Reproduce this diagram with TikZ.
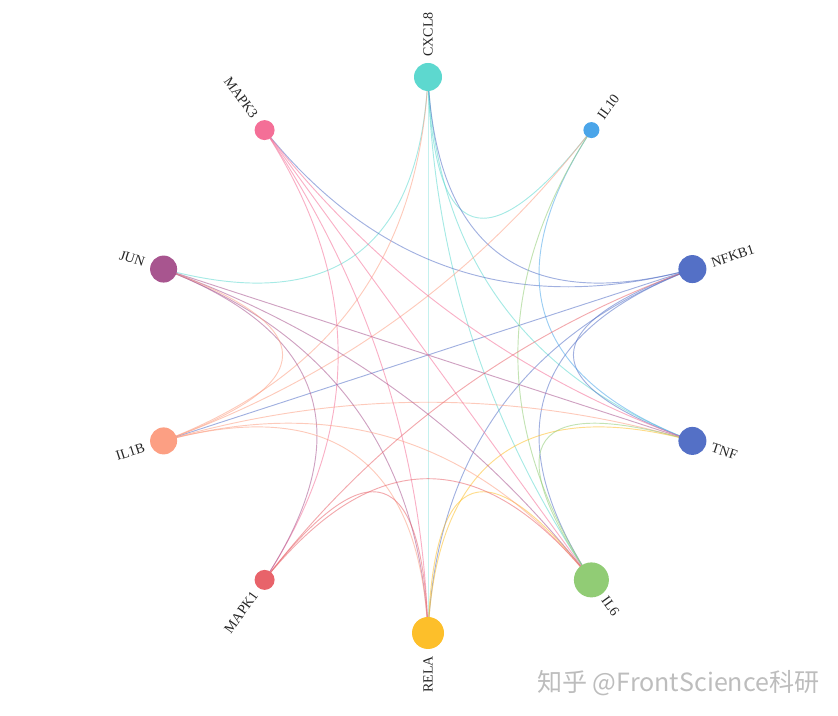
\documentclass[tikz,border=0pt]{standalone}
\usepackage{fontspec}
\setmainfont{Liberation Serif}
\newfontfamily\cjkfont{Noto Sans CJK SC}
\usetikzlibrary{calc}
\pgfdeclarelayer{bg}
\pgfsetlayers{bg,main}
\definecolor{cCXCL8}{HTML}{5DD8CF}
\definecolor{cIL10}{HTML}{4BA5E9}
\definecolor{cNFKB1}{HTML}{5470C6}
\definecolor{cTNF}{HTML}{5470C6}
\definecolor{cIL6}{HTML}{91CC75}
\definecolor{cRELA}{HTML}{FDBF2A}
\definecolor{cMAPK1}{HTML}{E8636A}
\definecolor{cIL1B}{HTML}{FC9F83}
\definecolor{cJUN}{HTML}{A8558F}
\definecolor{cMAPK3}{HTML}{F46F97}
\tikzset{
  gene/.style={circle, inner sep=0pt, minimum size=#1},
  lbl/.style={inner sep=0pt, font=\fontsize{10.5}{12}\selectfont, text=black!85},
  link/.style={line width=0.7pt, draw opacity=0.55},
  wmark/.style={text=black!26, font=\cjkfont\fontsize{18.8}{22}\selectfont, inner sep=0pt},
}
\newcommand\lnk[3]{%
  \path ($(#2.center)!0.5!(#3.center)$) coordinate (lnkm);
  \path ($(lnkm)!0.9!(O)$) coordinate (lnkq);
  \draw[link, draw=#1] (#2.center) .. controls ($(#2.center)!0.6667!(lnkq)$) and ($(#3.center)!0.6667!(lnkq)$) .. (#3.center);
}
\begin{document}
\begin{tikzpicture}[x=0.75pt,y=0.75pt]
\useasboundingbox (0,0) rectangle (838,716);
\coordinate (O) at (428,361);
% genes
\node[gene=21pt, fill=cCXCL8] (CXCL8) at ($(O)+(90:278)$) {};
\node[gene=12pt, fill=cIL10] (IL10) at ($(O)+(54:278)$) {};
\node[gene=21pt, fill=cNFKB1] (NFKB1) at ($(O)+(18:278)$) {};
\node[gene=21pt, fill=cTNF] (TNF) at ($(O)+(-18:278)$) {};
\node[gene=26.25pt, fill=cIL6] (IL6) at ($(O)+(-54:278)$) {};
\node[gene=24pt, fill=cRELA] (RELA) at ($(O)+(-90:278)$) {};
\node[gene=15pt, fill=cMAPK1] (MAPK1) at ($(O)+(-126:278)$) {};
\node[gene=20.25pt, fill=cIL1B] (IL1B) at ($(O)+(-162:278)$) {};
\node[gene=20.25pt, fill=cJUN] (JUN) at ($(O)+(162:278)$) {};
\node[gene=15pt, fill=cMAPK3] (MAPK3) at ($(O)+(126:278)$) {};
% labels
\node[lbl, rotate=90, anchor=west] (tCXCL8) at ($(O)+(90:298)$) {CXCL8};
\node[lbl, rotate=54, anchor=west] (tIL10) at ($(O)+(54:293)$) {IL10};
\node[lbl, rotate=18, anchor=west] (tNFKB1) at ($(O)+(18:298)$) {NFKB1};
\node[lbl, rotate=-18, anchor=west] (tTNF) at ($(O)+(-18:298)$) {TNF};
\node[lbl, rotate=-54, anchor=west] (tIL6) at ($(O)+(-54:300)$) {IL6};
\node[lbl, rotate=90, anchor=east] (tRELA) at ($(O)+(-90:301)$) {RELA};
\node[lbl, rotate=54, anchor=east] (tMAPK1) at ($(O)+(-126:294)$) {MAPK1};
\node[lbl, rotate=18, anchor=east] (tIL1B) at ($(O)+(-162:298)$) {IL1B};
\node[lbl, rotate=-18, anchor=east] (tJUN) at ($(O)+(162:298)$) {JUN};
\node[lbl, rotate=-54, anchor=east] (tMAPK3) at ($(O)+(126:294)$) {MAPK3};
% links
\begin{pgfonlayer}{bg}
\lnk{cCXCL8}{CXCL8}{RELA}
\lnk{cCXCL8}{CXCL8}{IL10}
\lnk{cCXCL8}{CXCL8}{JUN}
\lnk{cCXCL8}{CXCL8}{IL6}
\lnk{cCXCL8}{CXCL8}{TNF}
\lnk{cNFKB1}{NFKB1}{CXCL8}
\lnk{cNFKB1}{NFKB1}{MAPK3}
\lnk{cNFKB1}{NFKB1}{TNF}
\lnk{cNFKB1}{NFKB1}{IL1B}
\lnk{cNFKB1}{NFKB1}{RELA}
\lnk{cNFKB1}{NFKB1}{IL6}
\lnk{cIL10}{IL10}{TNF}
\lnk{cIL6}{IL6}{IL10}
\lnk{cIL1B}{IL1B}{IL10}
\lnk{cIL1B}{IL1B}{CXCL8}
\lnk{cJUN}{JUN}{TNF}
\lnk{cIL1B}{IL1B}{TNF}
\lnk{cRELA}{RELA}{TNF}
\lnk{cRELA}{RELA}{IL6}
\lnk{cIL6}{IL6}{TNF}
\lnk{cMAPK3}{MAPK3}{IL6}
\lnk{cMAPK3}{MAPK3}{RELA}
\lnk{cMAPK3}{MAPK3}{MAPK1}
\lnk{cMAPK3}{MAPK3}{TNF}
\lnk{cJUN}{JUN}{IL6}
\lnk{cJUN}{JUN}{RELA}
\lnk{cJUN}{JUN}{MAPK1}
\lnk{cIL1B}{IL1B}{JUN}
\lnk{cIL1B}{IL1B}{IL6}
\lnk{cIL1B}{IL1B}{RELA}
\lnk{cMAPK1}{MAPK1}{IL6}
\lnk{cMAPK1}{MAPK1}{RELA}
\lnk{cMAPK1}{MAPK1}{NFKB1}
\end{pgfonlayer}
% watermark
\node[wmark, anchor=west] (wm) at (537,33) {知乎 @FrontScience科研};
\end{tikzpicture}
\end{document}
